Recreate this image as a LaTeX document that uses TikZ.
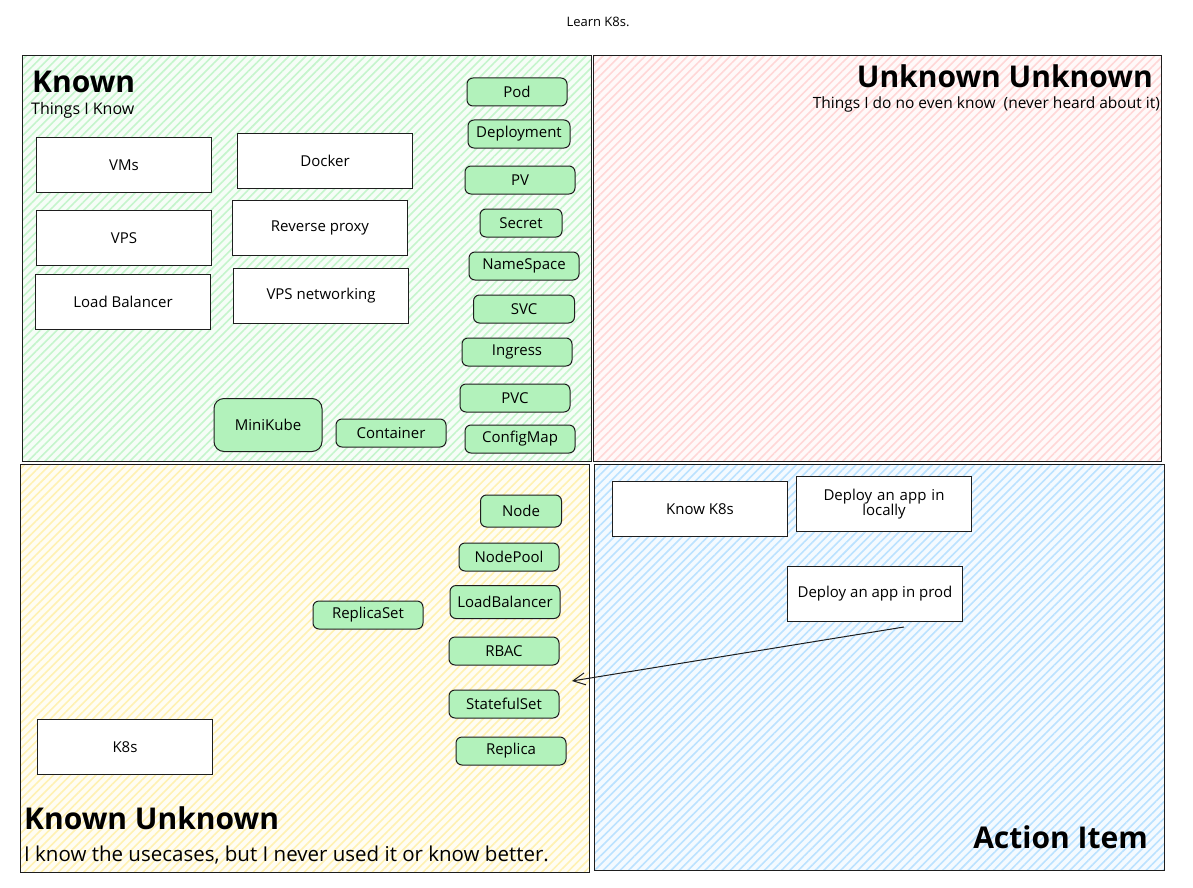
\documentclass[tikz,border=0pt]{standalone}
\usepackage{fontspec}
\setmainfont{Open Sans}
\usetikzlibrary{patterns.meta,arrows.meta}

\definecolor{ink}{HTML}{1E1E1E}
\definecolor{knowngreen}{HTML}{B2F2BB}
\definecolor{unknownred}{HTML}{FFC9C9}
\definecolor{unknownyellow}{HTML}{FFEC99}
\definecolor{actionblue}{HTML}{A5D8FF}

\tikzset{
  quad/.style={draw=ink, line width=1pt},
  hatch/.style={pattern={Lines[angle=45,distance=6pt,line width=1.6pt]}, pattern color=#1!75},
  whitebox/.style={draw=ink, fill=white, line width=1pt, minimum width=175pt, minimum height=55pt,
    align=center, inner sep=2pt, font=\fontsize{15}{17}\selectfont},
  chip/.style={draw=ink, fill=knowngreen, line width=1pt, rounded corners=6pt, minimum width=110pt,
    minimum height=28pt, inner sep=2pt, font=\fontsize{15}{17}\selectfont},
  bigtitle/.style={inner sep=0pt, font=\fontsize{30}{34}\selectfont\bfseries},
  subtitle/.style={inner sep=0pt, font=\fontsize{15.5}{18}\selectfont}
}

\begin{document}
\begin{tikzpicture}[x=1pt, y=-1pt]
  \useasboundingbox (0,0) rectangle (1193,888);

  % Title
  \node[font=\fontsize{13}{15}\selectfont] (title) at (598,22) {Learn K8s.};

  % Quadrants
  % Known
  \fill[knowngreen!12] (22,56) rectangle (591,461);
  \fill[hatch=knowngreen] (22,56) rectangle (591,461);
  \draw[quad] (22,56) rectangle (591,461);
  % Unknown Unknown
  \fill[unknownred!12] (593,56) rectangle (1161,461);
  \fill[hatch=unknownred] (593,56) rectangle (1161,461);
  \draw[quad] (593,56) rectangle (1161,461);
  % Known Unknown
  \fill[unknownyellow!12] (20,464) rectangle (589,872);
  \fill[hatch=unknownyellow] (20,464) rectangle (589,872);
  \draw[quad] (20,464) rectangle (589,872);
  % Action Item
  \fill[actionblue!12] (594,464) rectangle (1164,870);
  \fill[hatch=actionblue] (594,464) rectangle (1164,870);
  \draw[quad] (594,464) rectangle (1164,870);

  % Headings
  \node[bigtitle, anchor=base west] (known) at (32,93) {Known};
  \node[subtitle, anchor=base west, font=\fontsize{16}{18}\selectfont] (knownsub) at (31,115) {Things I Know};
  \node[bigtitle, anchor=base east] (unkunk) at (1153,88) {Unknown Unknown};
  \node[subtitle, anchor=base east] (unkunksub) at (1160,109) {Things I do no even know\ \ (never heard about it)};
  \node[bigtitle, anchor=base west] (knownunk) at (24,829) {Known Unknown};
  \node[inner sep=0pt, anchor=base west, font=\fontsize{20.5}{23}\selectfont] (knownunksub) at (24,861)
    {I know the usecases, but I never used it or know better.};
  \node[bigtitle, anchor=base east] (action) at (1148,848) {Action Item};

  % Things I know
  \node[whitebox] (vms) at (124,165) {VMs};
  \node[whitebox] (docker) at (325,161) {Docker};
  \node[whitebox] (vps) at (124,238) {VPS};
  \node[whitebox] (revproxy) at (320,228) {Reverse proxy};
  \node[whitebox] (lb) at (123,302) {Load Balancer};
  \node[whitebox] (vpsnet) at (321,296) {VPS networking};

  \node[chip, minimum width=100pt] (pod) at (517,92) {Pod};
  \node[chip, minimum width=102pt] (deployment) at (519,134) {Deployment};
  \node[chip] (pv) at (520,180) {PV};
  \node[chip, minimum width=82pt] (secret) at (521,223) {Secret};
  \node[chip] (namespace) at (524,266) {NameSpace};
  \node[chip, minimum width=101pt] (svc) at (524,309) {SVC};
  \node[chip] (ingress) at (517,352) {Ingress};
  \node[chip] (pvc) at (515,398) {PVC};
  \node[chip] (configmap) at (520,439) {ConfigMap};
  \node[chip, minimum width=108pt, minimum height=53pt, rounded corners=10pt] (minikube) at (268,425) {MiniKube};
  \node[chip] (container) at (391,433) {Container};

  % Known unknown
  \node[chip, minimum width=81pt, minimum height=32pt] (node) at (521,511) {Node};
  \node[chip, minimum width=100pt] (nodepool) at (509,557) {NodePool};
  \node[chip, minimum height=33pt] (loadbalancer) at (505,602) {LoadBalancer};
  \node[chip] (replicaset) at (368,615) {ReplicaSet};
  \node[chip] (rbac) at (504,651) {RBAC};
  \node[chip] (statefulset) at (504,704) {StatefulSet};
  \node[chip] (replica) at (511,751) {Replica};
  \node[whitebox] (k8s) at (125,747) {K8s};

  % Action items
  \node[whitebox] (knowk8s) at (700,509) {Know K8s};
  \node[whitebox, text width=160pt] (local) at (884,504) {Deploy an app in\\[-2pt] locally};
  \node[whitebox] (prod) at (875,594) {Deploy an app in prod};

  % Arrow
  \coordinate (arrowtail) at (904,627);
  \coordinate (arrowtip) at (572,681);
  \draw[ink, line width=1pt, -{Straight Barb[length=12pt,width=12pt]}] (arrowtail) -- (arrowtip);
\end{tikzpicture}
\end{document}
